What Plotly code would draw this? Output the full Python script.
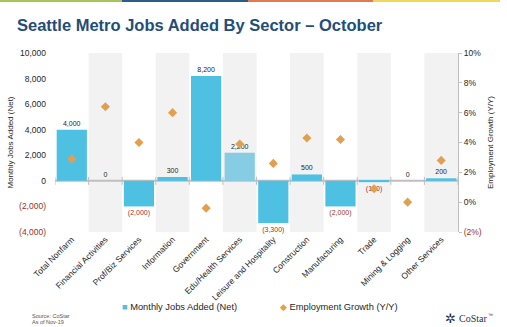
import plotly.graph_objects as go

categories = ["Total Nonfarm", "Financial Activities", "Prof/Biz Services", "Information",
              "Government", "Edu/Health Services", "Leisure and Hospitality", "Construction",
              "Manufacturing", "Trade", "Mining & Logging", "Other Services"]
jobs_added = [4000, 0, -2000, 300, 8200, 2200, -3300, 500, -2000, -100, 0, 200]
emp_growth = [2.9, 6.4, 4.0, 6.0, -0.4, 3.9, 2.6, 4.3, 4.2, 0.9, 0.0, 2.8]

left_ticks = [-4000, -2000, 0, 2000, 4000, 6000, 8000, 10000]
right_ticks = [-2, 0, 2, 4, 6, 8, 10]

W, H = 507, 327
ML, MR, MT, MB = 55, 49, 53, 95
RED = "#A0302A"
TXT = "#262626"
BAR = "#4EC1E3"
DOT = "#E29F4E"


def fmt_num(v):
    s = f"{abs(v):,}"
    return f"({s})" if v < 0 else s


def tick_label(v, s):
    return f"<span style='color:{RED}'>{s}</span>" if v < 0 else s


def px_x(p):
    return (p - ML) / (W - ML - MR)


def px_y(p):
    return (H - MB - p) / (H - MT - MB)


bar_colors = ["#86CCE2" if c == "Edu/Health Services" else BAR for c in categories]
bar_text = [fmt_num(v) for v in jobs_added]
bar_text_colors = [RED if v < 0 else TXT for v in jobs_added]

fig = go.Figure()
fig.add_trace(go.Bar(
    x=categories, y=jobs_added, name="Monthly Jobs Added (Net)", showlegend=False,
    marker=dict(color=bar_colors, line=dict(width=0)),
    text=bar_text, textposition="outside", cliponaxis=False,
    textfont=dict(size=7, color=bar_text_colors, family="Liberation Sans"),
))
fig.add_trace(go.Scatter(
    x=categories, y=emp_growth, name="Employment Growth (Y/Y)", yaxis="y2", showlegend=False,
    mode="markers", marker=dict(symbol="diamond", size=7, color=DOT),
))

shapes = []
for i in range(len(categories)):
    if i % 2 == 1:
        shapes.append(dict(type="rect", xref="x", yref="paper", x0=i - 0.5, x1=i + 0.5,
                           y0=0, y1=1, fillcolor="#F2F2F2", line=dict(width=0), layer="below"))
shapes.append(dict(type="line", xref="x", yref="y", x0=-0.5, x1=len(categories) - 0.5,
                   y0=0, y1=0, line=dict(color="#BFBFBF", width=2), layer="below"))
for i in range(len(categories) + 1):
    shapes.append(dict(type="line", xref="x", yref="y", ysizemode="pixel", yanchor=0,
                       x0=i - 0.5, x1=i - 0.5, y0=-4, y1=4,
                       line=dict(color="#BFBFBF", width=1)))
stripes = [(0, 122, "#A8C45C"), (122, 248, "#2E5C8A"), (248, 373, "#E3794E"), (373, 500, "#EFD85C")]
for a, b, c in stripes:
    shapes.append(dict(type="rect", xref="paper", yref="paper", x0=px_x(a), x1=px_x(b),
                       y0=px_y(0), y1=px_y(2), fillcolor=c, line=dict(width=0)))


def ann(text, x, y, size, color=TXT, family="Liberation Sans", xanchor="left", align="left"):
    return dict(text=text, xref="paper", yref="paper", x=px_x(x), y=px_y(y), xanchor=xanchor,
                yanchor="middle", showarrow=False, align=align,
                font=dict(size=size, color=color, family=family))


annotations = [
    ann("<b>Seattle Metro Jobs Added By Sector – October</b>", 15, 25, 16.5, "#1F4E79"),
    ann("Source: CoStar", 30, 316, 5.5, "#555555"),
    ann("As of Nov-19", 30, 322, 5.5, "#555555"),
    ann("CoStar", 457, 318, 10, "#1F3350", "Liberation Serif"),
    ann("™", 486, 315, 5, "#1F3350"),
    ann("✲", 450, 318, 13, "#1F3350", "DejaVu Sans", xanchor="center"),
    ann(f"<span style='color:{BAR}'>■</span> Monthly Jobs Added (Net)", 120, 307, 9.3),
    ann(f"<span style='color:{DOT}'>◆</span> Employment Growth (Y/Y)", 278, 307, 9.3),
]

fig.update_layout(
    width=W, height=H, margin=dict(l=ML, r=MR, t=MT, b=MB),
    paper_bgcolor="white", plot_bgcolor="white",
    font=dict(family="Liberation Sans", size=8, color=TXT),
    bargap=0.1, showlegend=False,
    shapes=shapes, annotations=annotations,
    xaxis=dict(tickangle=-45, showgrid=False, showline=False, ticks="", automargin=False,
               tickfont=dict(size=8.5, color=TXT), range=[-0.5, len(categories) - 0.5]),
    yaxis=dict(range=[-4000, 10000], tickvals=left_ticks, automargin=False,
               ticktext=[tick_label(v, fmt_num(v)) for v in left_ticks],
               showgrid=False, zeroline=False, showline=False, ticks="", ticklabelstandoff=8,
               tickfont=dict(size=8.5, color=TXT),
               title=dict(text="Monthly Jobs Added (Net)", font=dict(size=8, color=TXT), standoff=4)),
    yaxis2=dict(range=[-2, 10], overlaying="y", side="right", tickvals=right_ticks, automargin=False,
                ticktext=[tick_label(v, f"({abs(v)}%)" if v < 0 else f"{v}%") for v in right_ticks],
                showgrid=False, zeroline=False, showline=True, linecolor="#BFBFBF", linewidth=1,
                ticks="outside", ticklen=3, tickcolor="#BFBFBF",
                tickfont=dict(size=8.5, color=TXT),
                title=dict(text="Employment Growth (Y/Y)", font=dict(size=8, color=TXT), standoff=6)),
)

fig.write_html("out.html")
